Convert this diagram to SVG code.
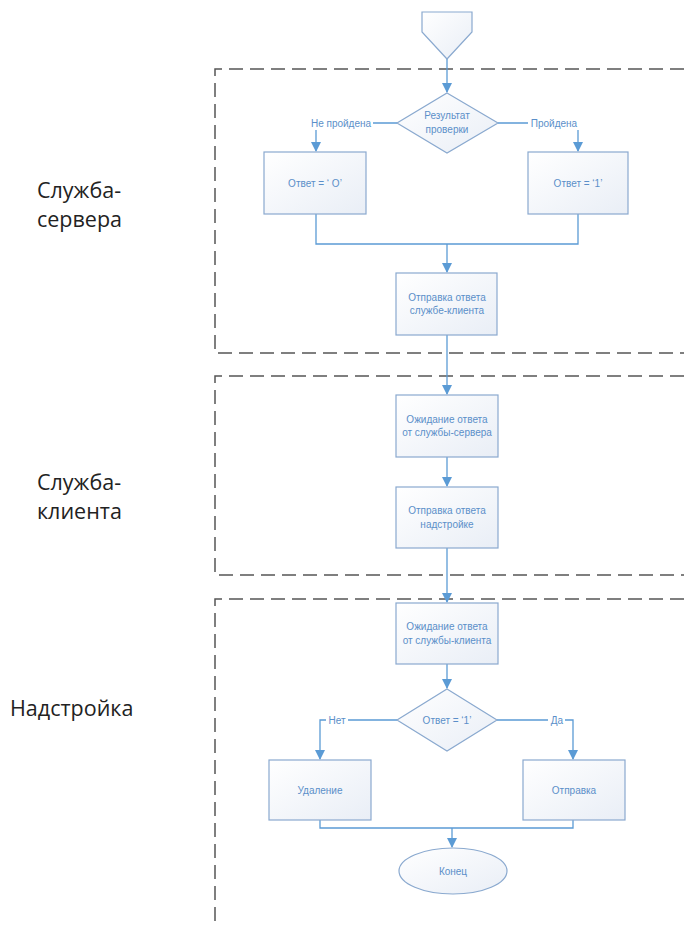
<svg xmlns="http://www.w3.org/2000/svg" width="684" height="926" viewBox="0 0 684 926">
<defs>
<linearGradient id="g" x1="0" y1="0" x2="1" y2="1">
<stop offset="0" stop-color="#ffffff"/><stop offset="1" stop-color="#e9eef6"/>
</linearGradient>
<marker id="a" markerWidth="10" markerHeight="10" refX="9" refY="5" orient="auto" markerUnits="userSpaceOnUse">
<path d="M0,0 L10,5 L0,10 z" fill="#5b9bd5"/>
</marker>
</defs>
<style>
.n{fill:url(#g);stroke:#8aa9cf;stroke-width:1.2}
.t{font-family:"Liberation Sans",Arial,sans-serif;font-size:10px;fill:#5b8fc9;text-anchor:middle}
.c{fill:none;stroke:#5b9bd5;stroke-width:1.3}
.d{fill:none;stroke:#555;stroke-width:1.5;stroke-dasharray:14 7}
.lab{font-family:"Open Sans","Noto Sans",sans-serif;font-size:21.5px;fill:#222}
.lb{fill:#fff}
</style>
<rect width="684" height="926" fill="#fff"/>
<g id="lanes">
<path class="d" d="M684,69 H215 V353 H684"/>
<path class="d" d="M684,376 H215 V575 H684"/>
<path class="d" d="M684,599 H215 V926"/>
<text class="lab" x="37" y="198">Служба-</text>
<text class="lab" x="37" y="227">сервера</text>
<text class="lab" x="37" y="490">Служба-</text>
<text class="lab" x="37" y="519">клиента</text>
<text class="lab" x="10" y="716">Надстройка</text>
</g>
<g id="connectors">
<path class="c" d="M447,59 V92" marker-end="url(#a)"/>
<path class="c" d="M397,123 H316 V151" marker-end="url(#a)"/>
<path class="c" d="M498,123 H578 V151" marker-end="url(#a)"/>
<path class="c" d="M316,214 V244 H578 V214"/>
<path class="c" d="M447,244 V272" marker-end="url(#a)"/>
<path class="c" d="M447,335 V394" marker-end="url(#a)"/>
<path class="c" d="M447,457 V486" marker-end="url(#a)"/>
<path class="c" d="M447,548 V602" marker-end="url(#a)"/>
<path class="c" d="M447,664 V688" marker-end="url(#a)"/>
<path class="c" d="M397,720 H320 V759" marker-end="url(#a)"/>
<path class="c" d="M497,720 H573 V759" marker-end="url(#a)"/>
<path class="c" d="M320,820 V828 H573 V820"/>
<path class="c" d="M452,828 V847" marker-end="url(#a)"/>
<rect class="lb" x="309" y="117" width="64" height="13"/>
<text class="t" x="341" y="127">Не пройдена</text>
<rect class="lb" x="528" y="117" width="52" height="13"/>
<text class="t" x="554" y="127">Пройдена</text>
<rect class="lb" x="326" y="714" width="22" height="13"/>
<text class="t" x="337" y="724">Нет</text>
<rect class="lb" x="548" y="714" width="17" height="13"/>
<text class="t" x="557" y="724">Да</text>
</g>
<g id="start"><path class="n" d="M422,12 H472 V32 L447,59 L422,32 Z"/></g>
<g id="check"><path class="n" d="M447,93 L498,123 L447,153 L397,123 Z"/>
<text class="t" x="447" y="119">Результат</text><text class="t" x="447" y="133">проверки</text></g>
<g id="ans0"><rect class="n" x="264" y="152" width="102" height="62"/><text class="t" x="315" y="187">Ответ = ‘ О’</text></g>
<g id="ans1"><rect class="n" x="528" y="152" width="100" height="62"/><text class="t" x="578" y="187">Ответ = ‘1’</text></g>
<g id="send1"><rect class="n" x="396" y="273" width="101" height="62"/>
<text class="t" x="447" y="301">Отправка ответа</text><text class="t" x="447" y="314">службе-клиента</text></g>
<g id="wait1"><rect class="n" x="396" y="395" width="102" height="62"/>
<text class="t" x="447" y="423">Ожидание ответа</text><text class="t" x="447" y="436">от службы-сервера</text></g>
<g id="send2"><rect class="n" x="396" y="487" width="102" height="61"/>
<text class="t" x="447" y="514">Отправка ответа</text><text class="t" x="447" y="528">надстройке</text></g>
<g id="wait2"><rect class="n" x="396" y="603" width="102" height="61"/>
<text class="t" x="447" y="630">Ожидание ответа</text><text class="t" x="447" y="644">от службы-клиента</text></g>
<g id="check2"><path class="n" d="M447,689 L497,720 L447,751 L397,720 Z"/>
<text class="t" x="447" y="724">Ответ = ‘1’</text></g>
<g id="del"><rect class="n" x="269" y="760" width="102" height="60"/><text class="t" x="320" y="794">Удаление</text></g>
<g id="send3"><rect class="n" x="523" y="760" width="102" height="60"/><text class="t" x="574" y="794">Отправка</text></g>
<g id="end"><ellipse class="n" cx="453" cy="871" rx="54" ry="23"/><text class="t" x="453" y="875">Конец</text></g>
</svg>
